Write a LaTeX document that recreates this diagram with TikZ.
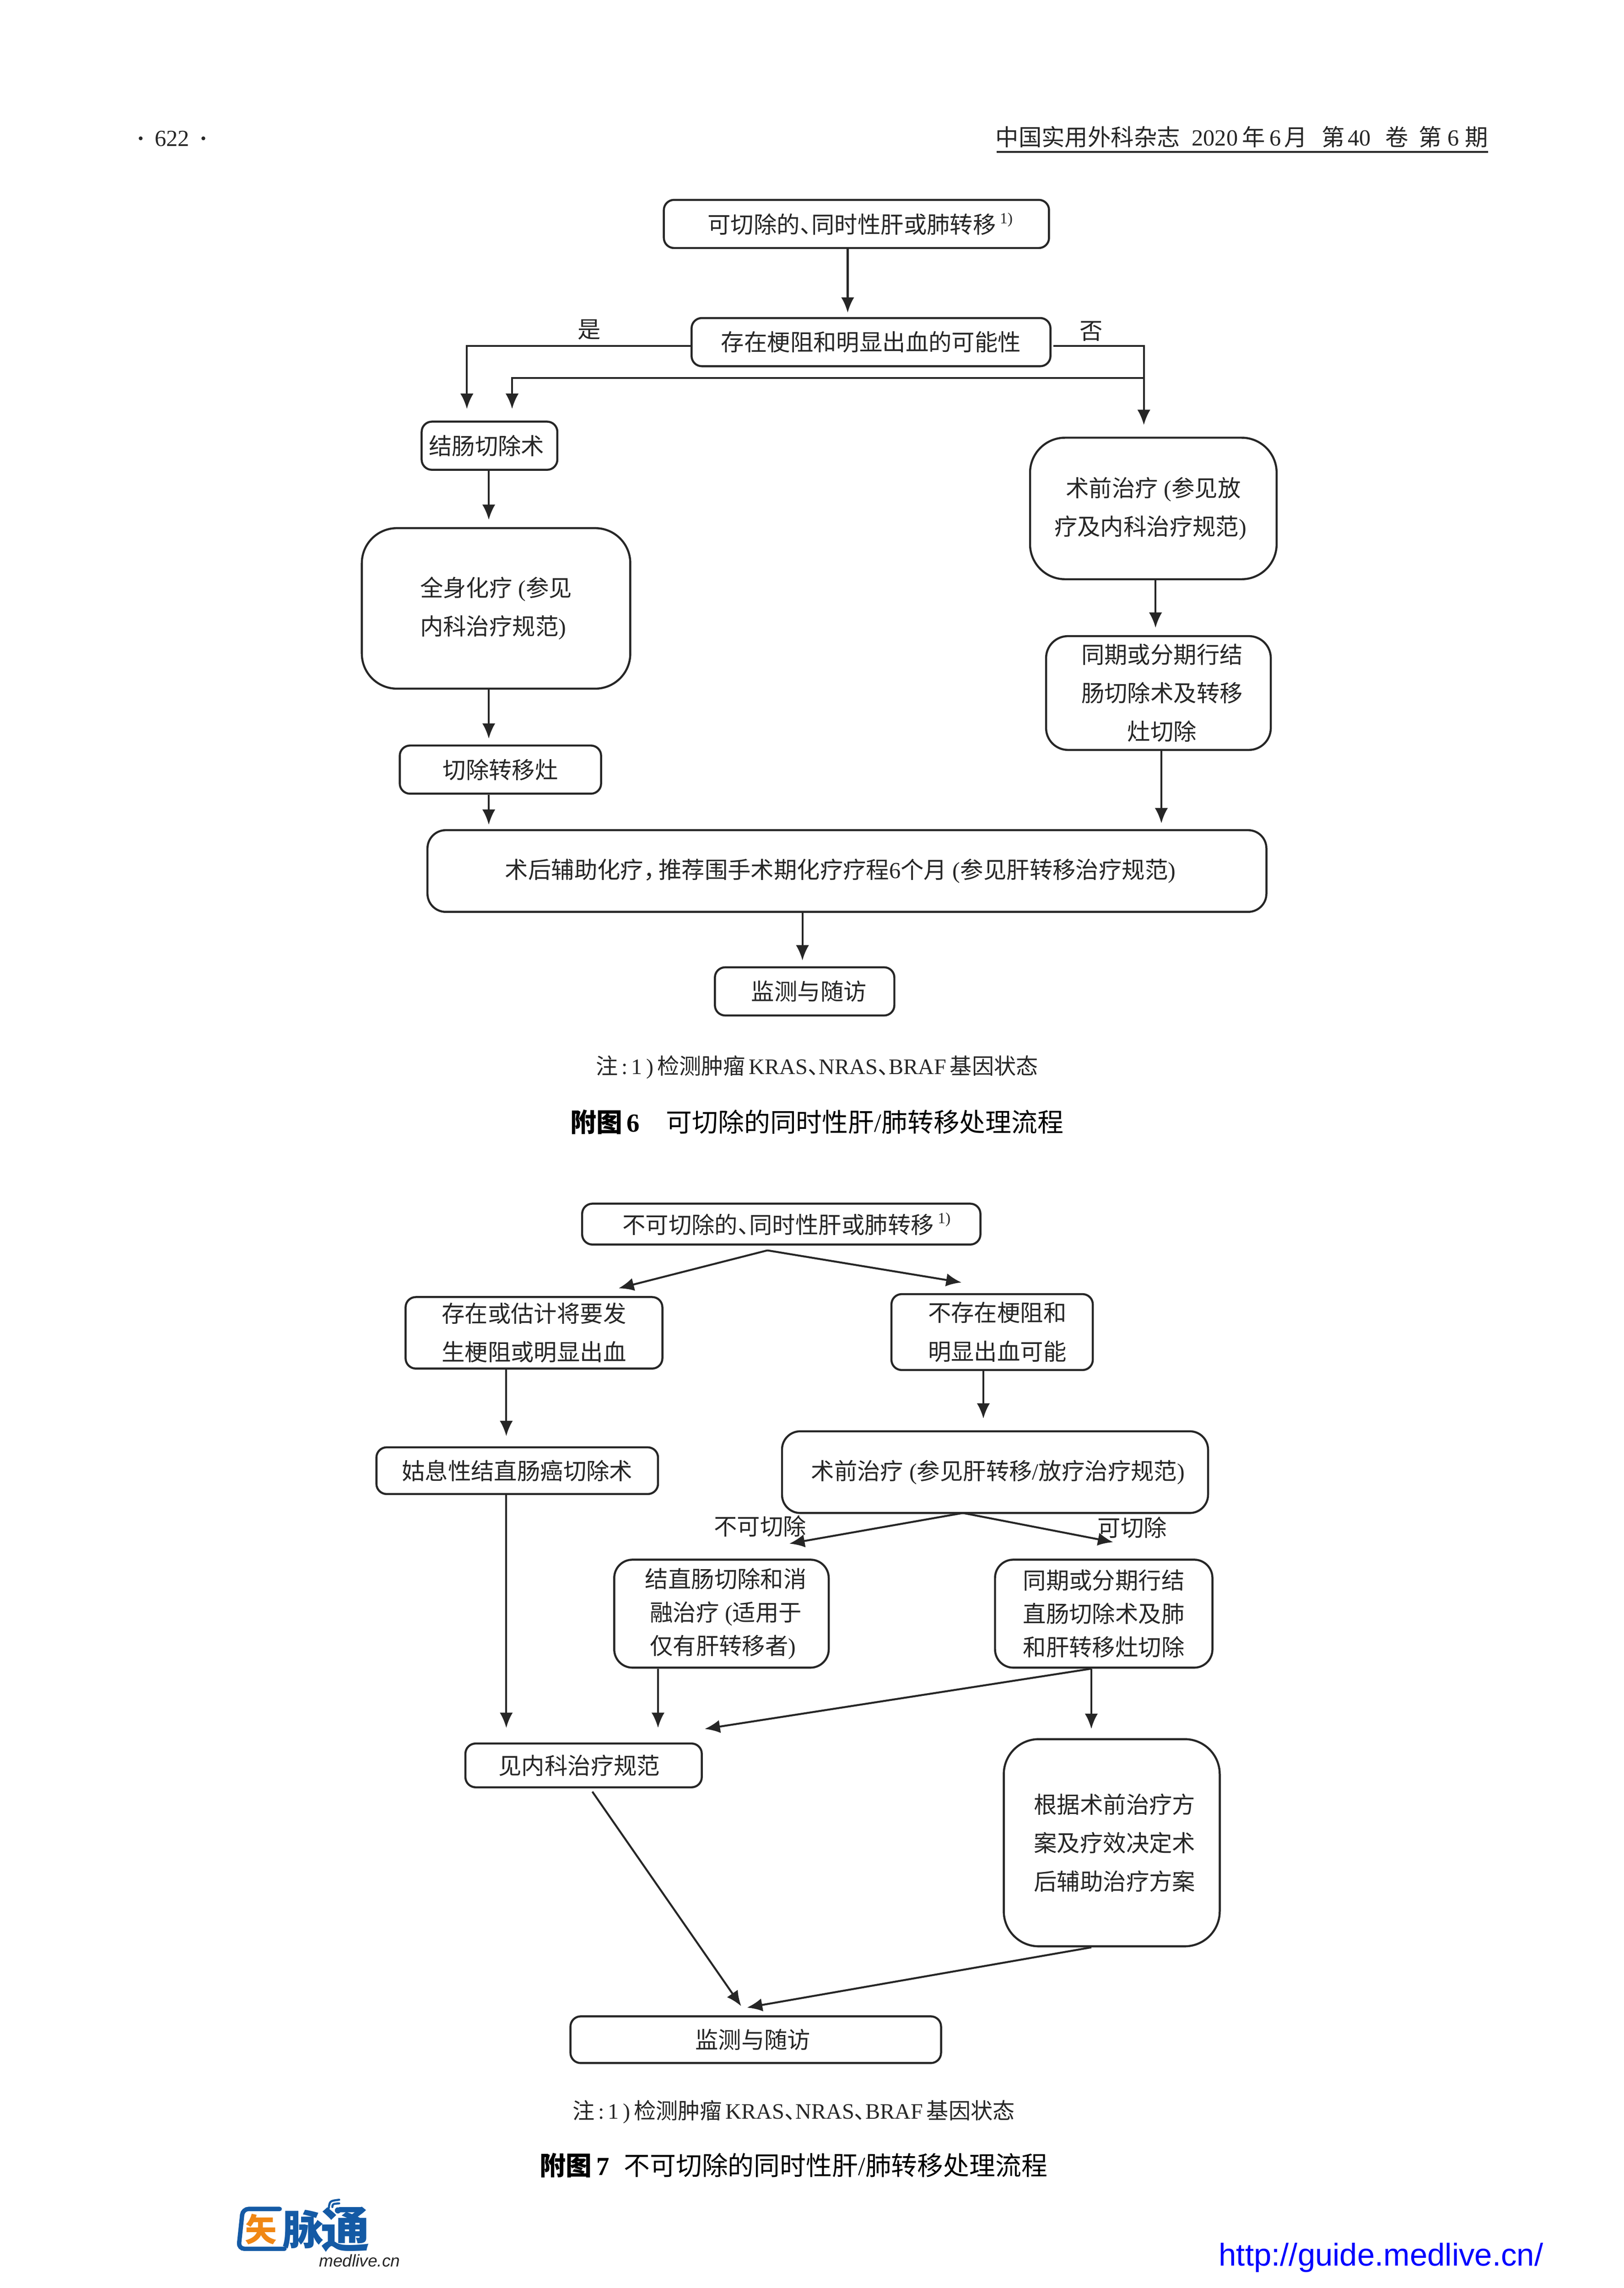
\documentclass[tikz,border=0pt]{standalone}
\usepackage{fontspec}
\setmainfont{Noto Sans CJK SC}
\newfontfamily\latfont{Liberation Serif}
\newfontfamily\urlfont{Liberation Sans}
\usetikzlibrary{arrows.meta}
\newcommand{\lat}[1]{{\latfont #1}}
\newcommand{\note}{\textsuperscript{\lat{1)}}}
\newcommand{\dun}{、\hspace{-.5em}}
\newcommand{\lp}{\lat{\kern.25em(}}
\newcommand{\rp}{\lat{)\kern.25em}}
\definecolor{logoblue}{RGB}{20,90,165}
\definecolor{logoorange}{RGB}{240,135,20}
\definecolor{urlblue}{RGB}{0,0,255}
\tikzset{
  flowbox/.style={draw=black!85,line width=.8pt,rounded corners=.14cm,inner sep=0pt,align=center,
    font=\fontsize{9}{15}\selectfont,text=black!85},
  bigbox/.style={flowbox,rounded corners=.48cm},
  flowarrow/.style={draw=black!85,line width=.75pt,-{Latex[length=.21cm,width=.18cm]},shorten >=.06cm},
  flowlabel/.style={font=\fontsize{9}{15}\selectfont,text=black!85},
  notetext/.style={font=\fontsize{8.6}{12}\selectfont,text=black!85},
  captiontext/.style={font=\fontsize{10.15}{12}\selectfont,text=black},
}
\begin{document}
\begin{tikzpicture}[x=.02cm,y=-.02cm]
  \useasboundingbox (0,0) rectangle (1112.8,1568.2);
  % header
  \node[flowlabel] (pagenum) at (118,95) {\lat{\textbf{·}\hspace{.14cm}622\hspace{.14cm}\textbf{·}}};
  \node[flowlabel,anchor=base east,inner sep=0pt,outer sep=0pt] (journal) at (1020,100)
    {中国实用外科杂志\hspace{.16cm}\lat{2020}\hspace{.06cm}年\hspace{.06cm}\lat{6}\hspace{.04cm}月\hspace{.2cm}第\hspace{.04cm}\lat{40}\hspace{.2cm}卷\hspace{.14cm}第\hspace{.08cm}\lat{6}\hspace{.08cm}期};
  \coordinate (ruleleft) at (683,104);
  \coordinate (ruleright) at (1020,104);
  \draw[line width=.7pt,black!85] (ruleleft) -- (ruleright);

  % first chart
  \node[flowbox,minimum width=264*.02cm,minimum height=33*.02cm] (resect) at (587,153.5)
    {\hspace*{.12cm}可切除的\dun 同时性肝或肺转移\,\note};
  \node[flowbox,minimum width=246*.02cm,minimum height=33*.02cm] (block) at (597,234.5)
    {存在梗阻和明显出血的可能性};
  \node[flowbox,minimum width=93*.02cm,minimum height=33*.02cm] (colon) at (335.5,305.5)
    {结肠切除术\hspace*{.08cm}};
  \node[bigbox,minimum width=169*.02cm,minimum height=97*.02cm] (preop) at (790.5,348.5)
    {术前治疗\lp 参见放\\疗及内科治疗规范\rp};
  \node[bigbox,minimum width=184*.02cm,minimum height=110*.02cm] (chemo) at (340,417)
    {全身化疗\lp 参见\\内科治疗规范\rp};
  \node[flowbox,rounded corners=.3cm,minimum width=154*.02cm,minimum height=78*.02cm] (staged) at (794,475)
    {\hspace*{.1cm}同期或分期行结\\\hspace*{.1cm}肠切除术及转移\\\hspace*{.1cm}灶切除};
  \node[flowbox,minimum width=138*.02cm,minimum height=33*.02cm] (lesion) at (343,527.5)
    {切除转移灶};
  \node[flowbox,rounded corners=.25cm,minimum width=575*.02cm,minimum height=56*.02cm] (adjuvant) at (580.5,597)
    {术后辅助化疗，\hspace{-.35em}推荐围手术期化疗疗程\lat{6}个月\lp 参见肝转移治疗规范\rp\hspace*{.1cm}};
  \node[flowbox,minimum width=123*.02cm,minimum height=33*.02cm] (follow) at (551.5,679.5)
    {\hspace*{.12cm}监测与随访};
  \node[flowlabel] (yes) at (404,226) {是};
  \node[flowlabel] (no) at (748,227) {否};
  \coordinate (x581) at (581,0);
  \coordinate (x320) at (320,0);
  \coordinate (x351) at (351,0);
  \coordinate (x784) at (784,0);
  \coordinate (x335) at (335,0);
  \coordinate (x792) at (792,0);
  \coordinate (x796) at (796,0);
  \coordinate (x550) at (550,0);
  \coordinate (noleft) at (722,237);
  \coordinate (noturn) at (784,237);
  \coordinate (nojoin) at (784,259);
  \coordinate (yesleft) at (474,237);
  \draw[flowarrow] (resect.south -| x581) -- (block.north -| x581);
  \draw[flowarrow,shorten >=.16cm] (yesleft) -- (x320 |- yesleft) -- (x320 |- colon.north);
  \draw[flowarrow,shorten >=.16cm] (noleft) -- (noturn) -- (x784 |- preop.north);
  \draw[flowarrow,shorten >=.16cm] (nojoin) -- (x351 |- nojoin) -- (x351 |- colon.north);
  \draw[flowarrow,shorten >=.1cm] (colon.south -| x335) -- (chemo.north -| x335);
  \draw[flowarrow,shorten >=.08cm] (chemo.south -| x335) -- (lesion.north -| x335);
  \draw[flowarrow] (lesion.south -| x335) -- (adjuvant.north -| x335);
  \draw[flowarrow,shorten >=.1cm] (preop.south -| x792) -- (staged.north -| x792);
  \draw[flowarrow,shorten >=.08cm] (staged.south -| x796) -- (adjuvant.north -| x796);
  \draw[flowarrow,shorten >=.08cm] (adjuvant.south -| x550) -- (follow.north -| x550);
  \node[notetext] (note6) at (560,731.5) {注\lat{\,:\,1\,)\,}检测肿瘤\,\lat{KRAS}\dun\lat{NRAS}\dun\lat{BRAF}\,基因状态};
  \node[captiontext] (cap6) at (560,769) {\textbf{附图\lat{\,6}}\hspace{.36cm}可切除的同时性肝\lat{/}肺转移处理流程};

  % second chart
  \node[flowbox,minimum width=273*.02cm,minimum height=28*.02cm] (unresect) at (535.5,839)
    {\hspace*{.16cm}不可切除的\dun 同时性肝或肺转移\,\note};
  \node[flowbox,minimum width=176*.02cm,minimum height=49*.02cm] (obstruct) at (366,913.5)
    {存在或估计将要发\\生梗阻或明显出血};
  \node[flowbox,minimum width=138*.02cm,minimum height=52*.02cm] (noblock) at (680,913)
    {\hspace*{.14cm}不存在梗阻和\\\hspace*{.14cm}明显出血可能};
  \node[flowbox,minimum width=193*.02cm,minimum height=32*.02cm] (palliative) at (354.5,1008)
    {姑息性结直肠癌切除术};
  \node[flowbox,rounded corners=.25cm,minimum width=292*.02cm,minimum height=56*.02cm] (preop2) at (682,1009)
    {\hspace*{.16cm}术前治疗\lp 参见肝转移\lat{/}放疗治疗规范\rp};
  \node[flowbox,rounded corners=.25cm,minimum width=147*.02cm,minimum height=74*.02cm,font=\fontsize{9}{13}\selectfont] (ablate) at (494.5,1106)
    {\hspace*{.12cm}结直肠切除和消\\\hspace*{.12cm}融治疗\lp 适用于\\\hspace*{.12cm}仅有肝转移者\rp};
  \node[flowbox,rounded corners=.25cm,minimum width=149*.02cm,minimum height=74*.02cm,font=\fontsize{9}{13}\selectfont] (staged2) at (756.5,1106)
    {同期或分期行结\\直肠切除术及肺\\和肝转移灶切除};
  \node[flowbox,minimum width=162*.02cm,minimum height=30*.02cm] (medical) at (400,1210)
    {见内科治疗规范\hspace*{.12cm}};
  \node[bigbox,minimum width=148*.02cm,minimum height=142*.02cm] (postplan) at (762,1263)
    {\hspace*{.08cm}根据术前治疗方\\\hspace*{.08cm}案及疗效决定术\\\hspace*{.08cm}后辅助治疗方案};
  \node[flowbox,minimum width=254*.02cm,minimum height=32*.02cm] (follow2) at (518,1398)
    {监测与随访\hspace*{.08cm}};
  \node[flowlabel] (cannot) at (521,1046) {不可切除};
  \node[flowlabel] (can) at (776,1047) {可切除};
  \coordinate (topfork) at (526,857);
  \coordinate (midfork) at (660,1037);
  \coordinate (x347) at (347,0);
  \coordinate (x674) at (674,0);
  \coordinate (x451) at (451,0);
  \coordinate (x748) at (748,0);
  \coordinate (leftin) at (424,883);
  \coordinate (rightin) at (659,879);
  \coordinate (cannotin) at (541,1058);
  \coordinate (canin) at (763,1057);
  \coordinate (medin) at (483,1185);
  \coordinate (medout) at (406,1228);
  \coordinate (followleft) at (508,1375);
  \coordinate (followright) at (512,1376);
  \draw[flowarrow,shorten >=0pt] (topfork) -- (leftin);
  \draw[flowarrow,shorten >=0pt] (topfork) -- (rightin);
  \draw[flowarrow,shorten >=.14cm] (obstruct.south -| x347) -- (palliative.north -| x347);
  \draw[flowarrow,shorten >=.16cm] (noblock.south -| x674) -- (preop2.north -| x674);
  \draw[flowarrow,shorten >=0pt] (midfork) -- (cannotin);
  \draw[flowarrow,shorten >=0pt] (midfork) -- (canin);
  \draw[flowarrow,shorten >=.2cm] (palliative.south -| x347) -- (medical.north -| x347);
  \draw[flowarrow,shorten >=.2cm] (ablate.south -| x451) -- (medical.north -| x451);
  \draw[flowarrow,shorten >=0pt] (staged2.south -| x748) -- (medin);
  \draw[flowarrow,shorten >=0pt] (staged2.south -| x748) -- (x748 |- medin);
  \draw[flowarrow,shorten >=0pt] (medout) -- (followleft);
  \draw[flowarrow,shorten >=0pt] (postplan.south -| x748) -- (followright);
  \node[notetext] (note7) at (544,1447.5) {注\lat{\,:\,1\,)\,}检测肿瘤\,\lat{KRAS}\dun\lat{NRAS}\dun\lat{BRAF}\,基因状态};
  \node[captiontext] (cap7) at (544,1484) {\textbf{附图\lat{\,7}}\hspace{.2cm}不可切除的同时性肝\lat{/}肺转移处理流程};

  % logo and web address
  \draw[logoblue,line width=1.7pt,rounded corners=.08cm,line cap=round] (191.7,1514) -- (166.4,1514) -- (163.5,1541.3) -- (195,1541.3);
  \node[font=\fontsize{12.5}{13}\selectfont\bfseries,text=logoorange,inner sep=0pt] (logoa) at (179,1528) {矢};
  \node[font=\fontsize{16}{17}\selectfont\bfseries,text=logoblue,inner sep=0pt] (logob) at (207.6,1528) {脉};
  \node[font=\fontsize{19}{20}\selectfont\bfseries,text=logoblue,inner sep=0pt] (logoc) at (236.7,1528) {通};
  \fill[logoblue] (231.6,1515) circle (.042cm);
  \draw[logoblue,line width=.8pt,line cap=round] (227.8,1512.7) .. controls (228,1510.5) .. (232.5,1510.2);
  \draw[logoblue,line width=.8pt,line cap=round] (225.3,1513.6) .. controls (226,1508.5) .. (232.5,1507.7);
  \node[font=\urlfont\itshape\fontsize{6.6}{7}\selectfont,text=black!85,inner sep=0pt,anchor=base east] (logoweb) at (274.5,1553.5) {medlive.cn};
  \node[font=\urlfont\fontsize{12.3}{14}\selectfont,text=urlblue,inner sep=0pt,anchor=base east] (url) at (1058,1553) {http://guide.medlive.cn/};
\end{tikzpicture}
\end{document}
